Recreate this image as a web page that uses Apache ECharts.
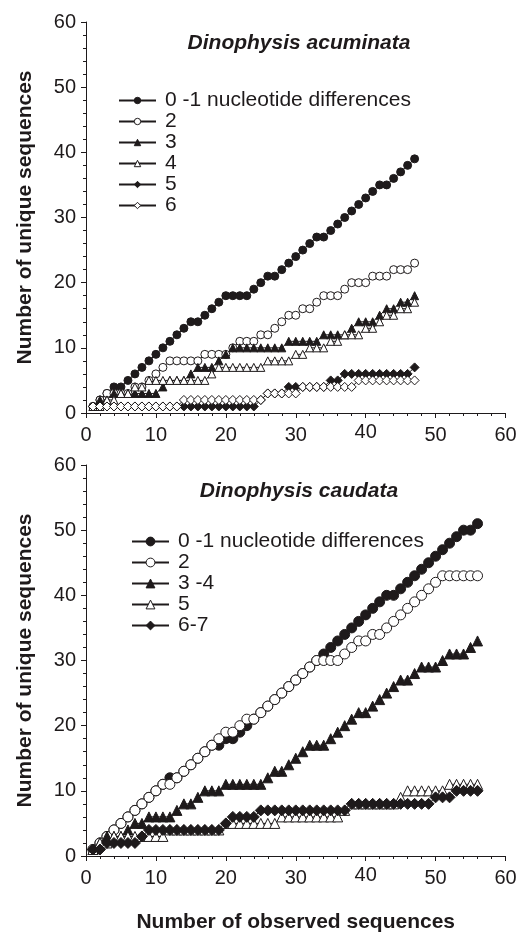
<!DOCTYPE html>
<html><head><meta charset="utf-8">
<script src="https://cdn.jsdelivr.net/npm/echarts@6/dist/echarts.min.js"></script>
<style>html,body{margin:0;padding:0;background:#fff}#c{width:521px;height:934px}</style>
</head><body><div id="c"></div>
<script>
// ---------- data ----------
const xAcum = [1,2,3,4,5,6,7,8,9,10,11,12,13,14,15,16,17,18,19,20,21,22,23,24,25,26,27,28,29,30,31,32,33,34,35,36,37,38,39,40,41,42,43,44,45,46,47];
const acum01 = [1,2,3,4,4,5,6,7,8,9,10,11,12,13,14,14,15,16,17,18,18,18,18,19,20,21,21,22,23,24,25,26,27,27,28,29,30,31,32,33,34,35,35,36,37,38,39];
const acum2  = [1,2,3,3,3,3,4,4,5,6,7,8,8,8,8,8,9,9,9,9,10,11,11,11,12,12,13,14,15,15,16,16,17,18,18,18,19,20,20,20,21,21,21,22,22,22,23];
const acum3  = [1,2,2,3,3,3,3,3,3,3,4,5,5,5,6,7,7,7,8,9,10,10,10,10,10,10,10,10,11,11,11,11,11,12,12,12,12,13,14,14,14,15,16,16,17,17,18];
const acum4  = [1,1,2,2,3,3,4,4,5,5,5,5,5,5,5,5,5,6,7,7,7,7,7,7,7,8,8,8,8,9,9,10,10,10,11,11,12,12,12,13,13,14,15,15,16,16,17];
const acum5  = [1,1,1,1,1,1,1,1,1,1,1,1,1,1,1,1,1,1,1,1,1,1,1,1,2,3,3,3,4,4,4,4,4,4,5,5,6,6,6,6,6,6,6,6,6,6,7];
const acum6  = [1,1,1,1,1,1,1,1,1,1,1,1,1,2,2,2,2,2,2,2,2,2,2,2,2,3,3,3,3,3,4,4,4,4,4,4,4,4,5,5,5,5,5,5,5,5,5];

const xCaud = [1,2,3,4,5,6,7,8,9,10,11,12,13,14,15,16,17,18,19,20,21,22,23,24,25,26,27,28,29,30,31,32,33,34,35,36,37,38,39,40,41,42,43,44,45,46,47,48,49,50,51,52,53,54,55,56];
const caud01 = [1,2,3,4,5,6,7,8,9,10,11,12,12,13,14,15,16,17,17,18,18,19,20,21,22,23,24,25,26,27,28,29,30,31,32,33,34,35,36,37,38,39,40,40,41,42,43,44,45,46,47,48,49,50,50,51];
const caud2  = [1,2,3,4,5,6,7,8,9,10,11,11,12,13,14,15,16,17,18,19,19,20,21,21,22,23,24,25,26,27,28,29,30,30,30,30,31,32,33,33,34,34,35,36,37,38,39,40,41,42,43,43,43,43,43,43];
const caud34 = [1,2,3,3,3,4,5,5,6,6,6,6,7,8,8,9,10,10,10,11,11,11,11,11,11,12,13,13,14,15,16,17,17,17,18,19,20,21,22,22,23,24,25,26,27,27,28,29,29,29,30,31,31,31,32,33];
const caud5  = [1,2,2,3,3,3,3,3,3,3,3,4,4,4,4,4,4,4,4,5,5,5,5,5,5,5,5,6,6,6,6,6,6,6,6,6,7,8,8,8,8,8,8,8,9,10,10,10,10,10,10,11,11,11,11,11];
const caud67 = [1,1,2,2,2,2,2,3,4,4,4,4,4,4,4,4,4,4,4,5,6,6,6,6,7,7,7,7,7,7,7,7,7,7,7,7,7,8,8,8,8,8,8,8,8,8,8,8,8,9,9,9,10,10,10,10];

const namesTop = ['0 -1 nucleotide differences','2','3','4','5','6'];
const namesBot = ['0 -1 nucleotide differences','2','3 -4','5','6-7'];
const titles = ['Dinophysis acuminata','Dinophysis caudata'];
const yTitle = 'Number of unique sequences';
const xTitle = 'Number of observed sequences';

// ---------- chart ----------
const INK = '#1e1a1b';
const FONT = '"Liberation Sans", Arial, Helvetica, sans-serif';
const chart = echarts.init(document.getElementById('c'), null, {renderer:'canvas'});

function ser(name, xs, ys, symbol, filled, size, gi, z) {
  return {
    type:'line', name: name, xAxisIndex: gi, yAxisIndex: gi,
    data: xs.map((x,i)=>[x, ys[i]]),
    symbol: symbol, symbolSize: size, showSymbol: true, showAllSymbol: true,
    lineStyle: {color: INK, width: 1},
    itemStyle: {color: filled ? INK : '#fff', borderColor: INK, borderWidth: 1},
    emphasis: {disabled: true}, z: z, animation: false, clip: false
  };
}

const series = [
  ser('t:'+namesTop[0], xAcum, acum01, 'circle', true, 8, 0, 2),
  ser('t:'+namesTop[1], xAcum, acum2, 'circle', false, 8, 0, 2),
  ser('t:'+namesTop[2], xAcum, acum3, 'triangle', true, 8, 0, 2),
  ser('t:'+namesTop[3], xAcum, acum4, 'triangle', false, 8, 0, 2),
  ser('t:'+namesTop[4], xAcum, acum5, 'diamond', true, 9, 0, 2),
  ser('t:'+namesTop[5], xAcum, acum6, 'diamond', false, 9, 0, 2),
  ser('b:'+namesBot[0], xCaud, caud01, 'circle', true, 10, 1, 2),
  ser('b:'+namesBot[1], xCaud, caud2, 'circle', false, 10, 1, 2),
  ser('b:'+namesBot[2], xCaud, caud34, 'triangle', true, 10, 1, 2),
  ser('b:'+namesBot[3], xCaud, caud5, 'triangle', false, 10, 1, 2),
  ser('b:'+namesBot[4], xCaud, caud67, 'diamond', true, 11, 1, 2)
];

function xAx(gi, withName) {
  return {
    type:'value', gridIndex: gi, min: 0, max: 60, interval: 10, position:'bottom',
    axisLine: {show:true, onZero:false, lineStyle:{color: INK, width: 1}},
    axisTick: {show:true, inside:false, length: 5, lineStyle:{color: INK}},
    minorTick: {show:true, splitNumber: 5, length: 3, lineStyle:{color: INK}},
    splitLine: {show:false},
    axisLabel: {fontSize: 20, color: INK, margin: 12, fontFamily: FONT,
      formatter: v => (v === 40 ? '{up|40}' : String(v)),
      rich: {up: {fontSize: 20, lineHeight: 14, color: INK, fontFamily: FONT}}},
    name: withName ? xTitle : '', nameLocation:'middle', nameGap: 56,
    nameTextStyle: {fontSize: 21, fontWeight:'bold', color: INK, fontFamily: FONT}
  };
}
function xTop(gi) {
  return {
    type:'value', gridIndex: gi, min:0, max:60, position:'top',
    axisLine:{show:true, lineStyle:{color: INK, width: 1}},
    axisTick:{show:false}, axisLabel:{show:false}, splitLine:{show:false}
  };
}
function yAx(gi) {
  return {
    type:'value', gridIndex: gi, min: 0, max: 60, interval: 10,
    axisLine: {show:true, lineStyle:{color: INK, width: 1}},
    axisTick: {show:true, inside:false, length: 5, lineStyle:{color: INK}},
    minorTick: {show:true, splitNumber: 5, length: 3, lineStyle:{color: INK}},
    splitLine: {show:false},
    axisLabel: {fontSize: 20, color: INK, margin: 10, fontFamily: FONT},
    name: yTitle, nameLocation:'middle', nameGap: 50, nameRotate: 90,
    nameTextStyle: {fontSize: 21, fontWeight:'bold', color: INK, fontFamily: FONT}
  };
}

function leg(names, prefix, left, top, ih) {
  return {
    orient:'vertical', left: left, top: top, padding: 0, itemWidth: 37, itemHeight: ih, itemGap: 0,
    data: names.map(n => prefix + n), selectedMode: false,
    formatter: n => n.slice(2),
    textStyle: {fontSize: 21, lineHeight: 21, color: INK, fontFamily: FONT, padding:[0,0,0,4]},
    itemStyle: {borderWidth: 1}
  };
}

chart.setOption({
  backgroundColor: '#fff',
  animation: false,
  textStyle: {fontFamily: FONT},
  title: [
    {text: titles[0], left: 294, top: 28, textAlign: 'center',
     textStyle:{fontSize: 21, fontWeight:'bold', fontStyle:'italic', color: INK, fontFamily: FONT}},
    {text: titles[1], left: 294, top: 476, textAlign: 'center',
     textStyle:{fontSize: 21, fontWeight:'bold', fontStyle:'italic', color: INK, fontFamily: FONT}}
  ],
  grid: [
    {left: 86, right: 15.5, top: 22, height: 391},
    {left: 86, right: 15.5, top: 465, height: 392.5}
  ],
  xAxis: [xAx(0, false), xAx(1, true), xTop(0), xTop(1)],
  yAxis: [yAx(0), yAx(1)],
  legend: [
    leg(namesTop, 't:', 118, 90, 8),
    leg(namesBot, 'b:', 131, 531, 11)
  ],
  series: series
});
</script></body></html>
